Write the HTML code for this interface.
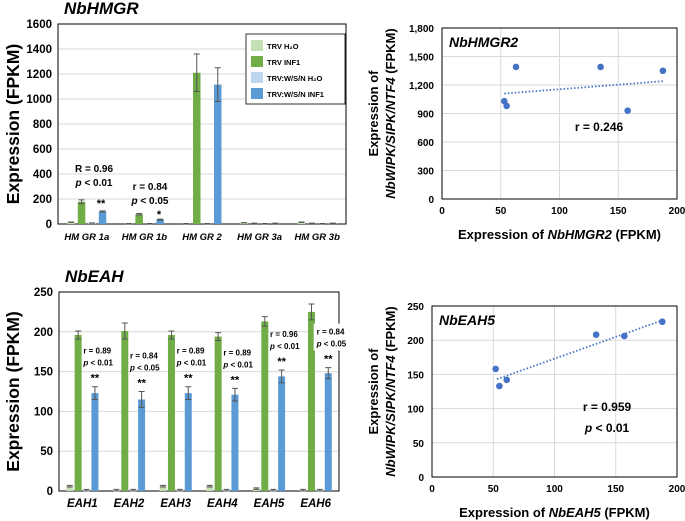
<!DOCTYPE html>
<html><head><meta charset="utf-8"><style>
body{margin:0;background:#fff;overflow:hidden}
svg{display:block;font-family:"Liberation Sans",Arial,sans-serif;font-weight:bold}
</style></head><body>
<svg id="s" width="685" height="521" viewBox="0 0 685 521"></svg>
<script>
// ---- data ----
const hmgrCats = ["HM GR 1a","HM GR 1b","HM GR 2","HM GR 3a","HM GR 3b"];
const hmgrH2O = [15,3,3,10,15];
const hmgrINF = [178,78,1210,5,5];
const hmgrWH2O = [8,3,3,3,3];
const hmgrWINF = [100,35,1115,5,5];
const hmgrINFerr = [15,6,150,2,2];
const hmgrWINFerr = [5,4,135,2,2];
const hmgrTicks = [0,200,400,600,800,1000,1200,1400,1600];

const eahCats = ["EAH1","EAH2","EAH3","EAH4","EAH5","EAH6"];
const eahH2O = [6,1,6,6,3,1];
const eahINF = [196,201,196,194,213,225];
const eahWH2O = [1,1,1,1,1,1];
const eahWINF = [123,115,123,121,144,148];
const eahINFerr = [5,10,5,5,6,10];
const eahWINFerr = [8,10,8,8,8,7];
const eahTicks = [0,50,100,150,200,250];
const eahR = ["0.89","0.84","0.89","0.89","0.96","0.84"];
const eahP = ["0.01","0.05","0.01","0.01","0.01","0.05"];

const sc1X = [53,55,63,135,158,188];
const sc1Y = [1030,980,1390,1390,930,1350];
const sc1Trend = [[53,1110],[188,1240]];
const sc1YTicks = [0,300,600,900,1200,1500,1800];
const sc2X = [52,55,61,134,157,188];
const sc2Y = [158,133,142,208,206,227];
const sc2Trend = [[53,143],[188,229]];
const sc2YTicks = [0,50,100,150,200,250];
const scXTicks = [0,50,100,150,200];

const NS="http://www.w3.org/2000/svg";
const svg=document.getElementById('s');
function el(tag,attrs,parent,text){const e=document.createElementNS(NS,tag);for(const k in attrs)e.setAttribute(k,attrs[k]);if(text!==undefined)e.textContent=text;(parent||svg).appendChild(e);return e;}

const C={h2o:"#c5e0b4",inf:"#70ad47",wh2o:"#bdd7ee",winf:"#5b9bd5"};

function barChart(o){
  const g=el('g',{});
  
  
  const y=v=>o.y0-(v/o.max)*(o.y0-o.y1);
  o.ticks.forEach(t=>{
    const l=el('line',{x1:o.x0,x2:o.x1,y1:y(t),y2:y(t),stroke:"#d9d9d9","stroke-width":1},g);
    
    const tx=el('text',{x:o.x0-6,y:y(t)+4,"font-size":11.5,"text-anchor":"end",fill:"#000"},g,t);
    
  });
  const fr=el('rect',{x:o.x0,y:o.y1,width:o.x1-o.x0,height:o.y0-o.y1,fill:"none",stroke:"#000","stroke-width":1},g);
  
  const gw=(o.x1-o.x0)/o.cats.length;
  const series=[[o.h2o,C.h2o,null],[o.inf,C.inf,o.infErr],[o.wh2o,C.wh2o,null],[o.winf,C.winf,o.winfErr]];
  o.cats.forEach((c,i)=>{
    const cx=o.x0+gw*(i+0.5)+o.shift;
    series.forEach((s,j)=>{
      const bx=cx+(j-1.5)*o.sp-o.bw/2;
      const v=s[0][i];
      const r=el('rect',{x:bx,y:y(v),width:o.bw,height:o.y0-y(v),fill:s[1]},g);
      
      
      const e=s[2]?s[2][i]:Math.max(1,v*0.1);
      const ex=bx+o.bw/2;
      const ep=el('path',{d:`M${ex},${y(v+e)}V${y(Math.max(0,v-e))}M${ex-3},${y(v+e)}h6M${ex-3},${y(Math.max(0,v-e))}h6`,stroke:"#555","stroke-width":1,fill:"none"},g);
      
    });
    const lt=el('text',{x:cx,y:o.y0+16,"font-size":o.catFs,"font-style":"italic","text-anchor":"middle"},g,c);
    
  });
  const at=el('text',{transform:`translate(${o.titleX},${(o.y0+o.y1)/2}) rotate(-90)`,"font-size":17.5,"text-anchor":"middle"},g,"Expression (FPKM)");
  
  const tt=el('text',{x:o.x0+6,y:o.y1-10,"font-size":17,"font-style":"italic"},g,o.title);
  
  return {g,y,gw};
}

// HMGR chart
const b1=barChart({name:'hmgr-bar-chart',x0:58,x1:346,y0:224,y1:24,max:1600,ticks:hmgrTicks,cats:hmgrCats,h2o:hmgrH2O,inf:hmgrINF,wh2o:hmgrWH2O,winf:hmgrWINF,infErr:hmgrINFerr,winfErr:hmgrWINFerr,bw:7.5,sp:10.5,shift:0,catFs:9.5,titleX:19,title:"NbHMGR"});
[["R = 0.96","p < 0.01",94,172,"**",101,207],["r = 0.84","p < 0.05",150,190,"*",159,218]].forEach(a=>{
  const t1=el('text',{x:a[2],y:a[3],"font-size":10,"text-anchor":"middle"},b1.g,a[0]);
  
  const t2=el('text',{x:a[2],y:a[3]+14,"font-size":10,"text-anchor":"middle"},b1.g);
  
  el('tspan',{"font-style":"italic"},t2,"p");el('tspan',{},t2,a[1].slice(1));
  const st=el('text',{x:a[5],y:a[6],"font-size":11,"text-anchor":"middle"},b1.g,a[4]);
  
});
// legend
const lg=el('g',{});

el('rect',{x:246,y:34,width:99,height:70,fill:"#fff",stroke:"#333","stroke-width":1},lg);
[["TRV H₂O",C.h2o],["TRV INF1",C.inf],["TRV:W/S/N H₂O",C.wh2o],["TRV:W/S/N INF1",C.winf]].forEach((l,i)=>{
  const ly=40+i*16;
  const e=el('g',{},lg);
  
  el('rect',{x:251,y:ly,width:12,height:11,fill:l[1]},e);
  el('text',{x:267,y:ly+9,"font-size":7.5},e,l[0]);
});

// EAH chart
const b2=barChart({name:'eah-bar-chart',x0:59,x1:339,y0:491,y1:292,max:250,ticks:eahTicks,cats:eahCats,h2o:eahH2O,inf:eahINF,wh2o:eahWH2O,winf:eahWINF,infErr:eahINFerr,winfErr:eahWINFerr,bw:7,sp:8.4,shift:0,catFs:11.5,titleX:19,title:"NbEAH"});
eahCats.forEach((c,i)=>{
  const cx=59+b2.gw*(i+0.5);
  const bx=cx+1.5*8.4;
  const top=b2.y(eahWINF[i]+eahWINFerr[i]);
  const st=el('text',{x:bx,y:top-5,"font-size":11,"text-anchor":"middle"},b2.g,"**");
  
  const ay=top-24;
  const ax=cx+1;
  if(i===5){const bg=el('rect',{x:ax-3,y:ay-20,width:34,height:27,fill:"#fff"},b2.g);}
  const t1=el('text',{x:ax,y:ay-9,"font-size":8,"text-anchor":"start"},b2.g,"r = "+eahR[i]);
  
  const t2=el('text',{x:ax,y:ay+3,"font-size":8},b2.g);
  
  el('tspan',{"font-style":"italic"},t2,"p");el('tspan',{},t2," < "+eahP[i]);
});

// scatter plots
function scatter(o){
  const g=el('g',{});
  
  const x=v=>o.x0+v/200*(o.x1-o.x0);
  const y=v=>o.y0-v/o.max*(o.y0-o.y1);
  scXTicks.forEach(t=>{
    const l=el('line',{x1:x(t),x2:x(t),y1:o.y1,y2:o.y0,stroke:"#d9d9d9"},g);
    
    const tx=el('text',{x:x(t),y:o.y0+15,"font-size":10,"text-anchor":"middle"},g,t);
    
  });
  o.yt.forEach(t=>{
    const l=el('line',{x1:o.x0,x2:o.x1,y1:y(t),y2:y(t),stroke:"#d9d9d9"},g);
    
    const tx=el('text',{x:o.x0-8,y:y(t)+4,"font-size":10,"text-anchor":"end"},g,t.toLocaleString('en-US'));
    
  });
  const fr=el('rect',{x:o.x0,y:o.y1,width:o.x1-o.x0,height:o.y0-o.y1,fill:"none",stroke:"#000"},g);
  
  const tl=el('line',{x1:x(o.tr[0][0]),y1:y(o.tr[0][1]),x2:x(o.tr[1][0]),y2:y(o.tr[1][1]),stroke:"#4472c4","stroke-width":1.8,"stroke-dasharray":"1.5,2"},g);
  
  o.xs.forEach((v,i)=>{
    const c=el('circle',{cx:x(v),cy:y(o.ys[i]),r:3.3,fill:"#4472c4"},g);
    
  });
  const tt=el('text',{x:o.x0+7,y:o.y1+19,"font-size":14,"font-style":"italic"},g,o.title);
  
  const xt=el('text',{x:(o.x0+o.x1)/2,y:o.y0+40,"font-size":13,"text-anchor":"middle"},g);
  
  el('tspan',{},xt,"Expression of ");el('tspan',{"font-style":"italic"},xt,o.title);el('tspan',{},xt," (FPKM)");
  const cy=(o.y0+o.y1)/2;
  const y1t=el('text',{transform:`translate(${o.yt1x},${cy}) rotate(-90)`,"font-size":13,"text-anchor":"middle"},g,"Expression of");
  
  const y2t=el('text',{transform:`translate(${o.yt1x+17},${cy}) rotate(-90)`,"font-size":13,"text-anchor":"middle"},g);
  
  el('tspan',{"font-style":"italic"},y2t,"NbWIPK/SIPK/NTF4");el('tspan',{},y2t," (FPKM)");
  return {g,x,y};
}
const s1=scatter({name:'hmgr2-scatter',x0:442,x1:677,y0:199,y1:28,max:1800,yt:sc1YTicks,xs:sc1X,ys:sc1Y,tr:sc1Trend,title:"NbHMGR2",yt1x:378});
const r1=el('text',{x:599,y:131,"font-size":12,"text-anchor":"middle"},s1.g,"r = 0.246");

const s2=scatter({name:'eah5-scatter',x0:432,x1:677,y0:477,y1:306,max:250,yt:sc2YTicks,xs:sc2X,ys:sc2Y,tr:sc2Trend,title:"NbEAH5",yt1x:378});
const r2=el('text',{x:607,y:411,"font-size":12,"text-anchor":"middle"},s2.g,"r = 0.959");

const p2=el('text',{x:607,y:432,"font-size":12,"text-anchor":"middle"},s2.g);

el('tspan',{"font-style":"italic"},p2,"p");el('tspan',{},p2," < 0.01");
</script>
</body></html>
